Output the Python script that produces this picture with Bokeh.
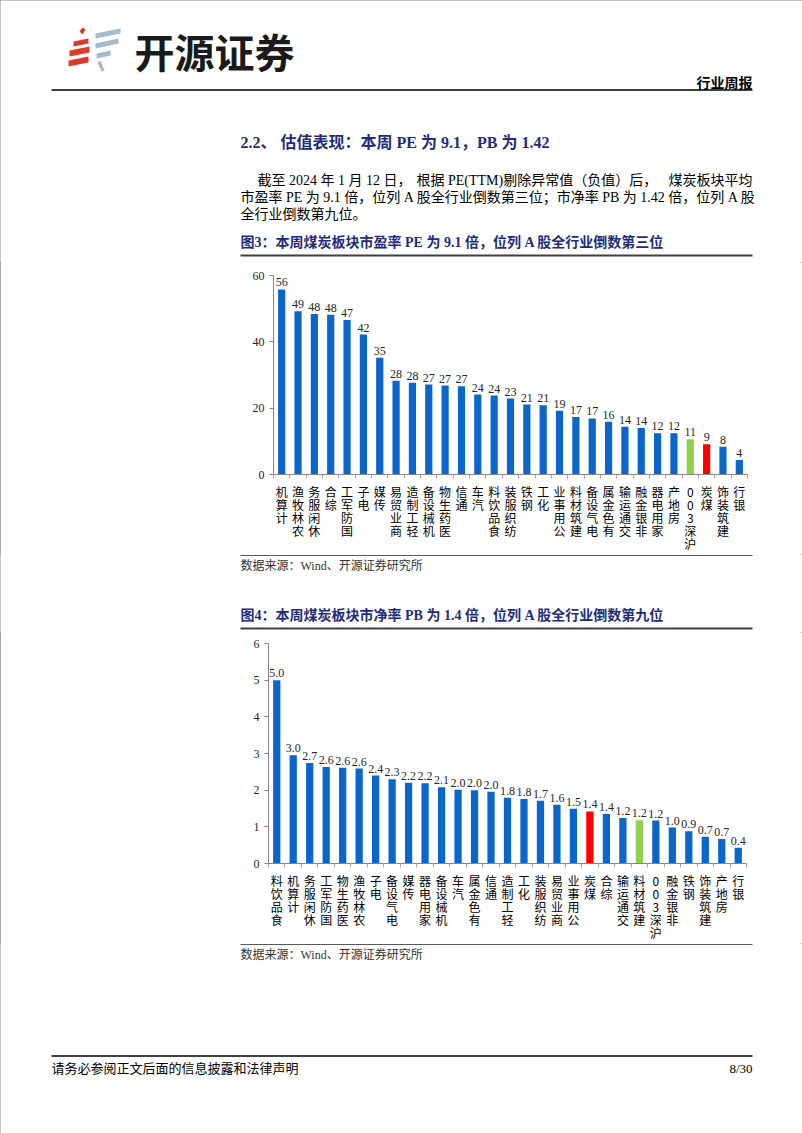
from bokeh.plotting import figure
from bokeh.layouts import column
from bokeh.models import Range1d, LinearAxis, FixedTicker
from bokeh.core.properties import value
from bokeh.embed import file_html
from bokeh.resources import INLINE

SERIF = "Liberation Serif, Noto Sans CJK SC"
CJK = "Noto Sans CJK SC"
NAVY = "#1F2C7A"
BLUE = "#0A66C8"
RED = "#FF0000"
GREEN = "#92D050"
W = 802

# ---------------- data ----------------
pe_categories = ["计算机", "农林牧渔", "休闲服务", "综合", "国防军工", "电子", "传媒", "商业贸易",
                 "轻工制造", "机械设备", "医药生物", "通信", "汽车", "食品饮料", "纺织服装", "钢铁",
                 "化工", "公用事业", "建筑材料", "电气设备", "有色金属", "交通运输", "非银金融",
                 "家用电器", "房地产", "沪深300", "煤炭", "建筑装饰", "银行"]
pe_values = [55.8, 49.2, 48.4, 48.2, 46.6, 42.2, 35.2, 28.3, 27.7, 27.1, 26.8, 26.6, 24.1, 23.8,
             22.9, 21.1, 20.9, 19.2, 17.3, 16.9, 15.9, 14.4, 14.0, 12.4, 12.4, 10.6, 9.1, 8.4, 4.4]
pe_highlight = {"沪深300": GREEN, "煤炭": RED}

pb_categories = ["食品饮料", "计算机", "休闲服务", "国防军工", "医药生物", "农林牧渔", "电子", "电气设备",
                 "传媒", "家用电器", "机械设备", "汽车", "有色金属", "通信", "轻工制造", "化工",
                 "纺织服装", "商业贸易", "公用事业", "煤炭", "综合", "交通运输", "建筑材料", "沪深300",
                 "非银金融", "钢铁", "建筑装饰", "房地产", "银行"]
pb_values = [5.00, 2.95, 2.74, 2.63, 2.61, 2.59, 2.40, 2.30, 2.20, 2.19, 2.08, 2.01, 2.00, 1.96,
             1.79, 1.76, 1.71, 1.60, 1.49, 1.42, 1.35, 1.24, 1.18, 1.17, 0.98, 0.88, 0.73, 0.67, 0.43]
pb_highlight = {"建筑材料": GREEN, "煤炭": RED}

pe_ticks = [0, 20, 40, 60]
pb_ticks = [0, 1, 2, 3, 4, 5, 6]


def stacked(label):
    return "\n".join(reversed(list(label)))


def canvas(top, bottom):
    p = figure(width=W, height=bottom - top, x_range=Range1d(0, W), y_range=Range1d(bottom, top),
               output_backend="svg", toolbar_location=None, x_axis_location=None, y_axis_location=None,
               min_border=0, min_border_left=0, min_border_right=0, min_border_top=0, min_border_bottom=0,
               outline_line_color=None, background_fill_color="white")
    p.grid.visible = False
    return p


def txt(p, x, y, s, size, font=SERIF, color="#000000", bold=False, align="left"):
    p.text(x=[x], y=[y], text=[s], text_font=value(font), text_font_size=size, text_color=color,
           text_font_style="bold" if bold else "normal", text_align=align, text_baseline="middle")


def bar_chart(cats, vals, highlight, fmt, ymax, ticks, top, bottom, fl, fr, ft, fb):
    n = len(cats)
    xs = list(range(1, n + 1))
    p = figure(width=W, height=bottom - top, x_range=Range1d(0.5, n + 0.5), y_range=Range1d(0, ymax),
               output_backend="svg", toolbar_location=None, x_axis_location=None, y_axis_location="left",
               min_border_left=fl, min_border_right=W - fr, min_border_top=ft - top,
               min_border_bottom=bottom - fb, outline_line_color=None, background_fill_color="white")
    p.grid.visible = False
    colors = [highlight.get(c, BLUE) for c in cats]
    p.vbar(x=xs, top=vals, width=0.44, color=colors, line_color=None)
    p.text(x=xs, y=vals, text=[fmt % v for v in vals], text_align="center", text_baseline="bottom",
           y_offset=-3, text_font=value(SERIF), text_font_size="12px", text_color="#262626")
    ya = p.yaxis[0]
    ya.ticker = FixedTicker(ticks=ticks)
    ya.axis_line_color = "#868686"
    ya.major_tick_line_color = "#868686"
    ya.major_tick_out = 4
    ya.major_tick_in = 0
    ya.minor_tick_line_color = None
    ya.major_label_text_font = SERIF
    ya.major_label_text_font_size = "12px"
    ya.major_label_text_color = "#262626"
    ya.major_label_standoff = 5
    xa = LinearAxis(ticker=FixedTicker(ticks=xs, minor_ticks=[i + 0.5 for i in range(n + 1)]),
                    axis_line_color="#868686", major_tick_line_color=None, major_tick_out=0,
                    major_tick_in=0, minor_tick_line_color="#A6A6A6", minor_tick_out=4, minor_tick_in=0,
                    major_label_text_font=CJK, major_label_text_font_size="12px",
                    major_label_text_line_height=0.77, major_label_standoff=4,
                    major_label_text_color="#000000", major_label_orientation="horizontal")
    xa.major_label_overrides = {x: stacked(c) for x, c in zip(xs, cats)}
    p.add_layout(xa, "below")
    return p


# ---------------- header + text ----------------
head = canvas(0, 262)
red_stripes_x = [[68, 68, 88, 88], [69, 69, 89, 89], [73, 73, 88, 88]]
red_stripes_y = [[66, 60, 56, 62], [56, 50, 46, 52], [46, 41, 38, 43]]
head.patches(red_stripes_x, red_stripes_y, color="#DC3A2C", line_color=None)
head.patches([[79, 82, 85, 82]], [[31, 27, 29, 34]], color="#DC3A2C", line_color=None)
blue_x = [[95, 95, 120, 120], [95, 95, 118, 118], [96, 96, 110, 110], [97, 100, 104, 101]]
blue_y = [[38, 33, 28, 33], [48, 43, 38, 43], [58, 53, 50, 55], [62, 60, 70, 71]]
head.patches(blue_x, blue_y, color="#A3BCCB", line_color=None)
txt(head, 134, 50, "开源证券", "40px", font=CJK, color="#1A1A1A", bold=True)
txt(head, 752, 81, "行业周报", "14px", font=CJK, color="#000000", bold=True, align="right")
head.segment(x0=[51], y0=[89.5], x1=[752], y1=[89.5], line_color="#000000", line_width=1.5)

txt(head, 240, 142, "2.2、 估值表现：本周 PE 为 9.1，PB 为 1.42", "16px", color=NAVY, bold=True)
# first paragraph line, spread to the justified width of the original
txt(head, 257, 180, "截至 2024 年 1 月 12 日，", "14px")
txt(head, 416, 180, "根据 PE(TTM)剔除异常值（负值）后，", "14px")
txt(head, 752, 180, "煤炭板块平均", "14px", align="right")
txt(head, 240, 197, "市盈率 PE 为 9.1 倍，位列 A 股全行业倒数第三位；市净率 PB 为 1.42 倍，位列 A 股", "14px")
txt(head, 240, 214, "全行业倒数第九位。", "14px")
txt(head, 240, 242, "图3：本周煤炭板块市盈率 PE 为 9.1 倍，位列 A 股全行业倒数第三位", "14px", color=NAVY, bold=True)
head.segment(x0=[240], y0=[255], x1=[752], y1=[255], line_color="#404040", line_width=2)

# ---------------- PE chart ----------------
pe_chart = bar_chart(pe_categories, pe_values, pe_highlight, "%.0f", 60, pe_ticks,
                     262, 554, 273, 747, 275, 476)

# ---------------- middle ----------------
mid = canvas(554, 632)
mid.segment(x0=[240], y0=[555], x1=[752], y1=[555], line_color="#595959", line_width=1)
txt(mid, 240, 565, "数据来源：Wind、开源证券研究所", "12px", color="#333333")
txt(mid, 240, 615, "图4：本周煤炭板块市净率 PB 为 1.4 倍，位列 A 股全行业倒数第九位", "14px", color=NAVY, bold=True)
mid.segment(x0=[240], y0=[628], x1=[752], y1=[628], line_color="#404040", line_width=2)

# ---------------- PB chart ----------------
pb_chart = bar_chart(pb_categories, pb_values, pb_highlight, "%.1f", 6, pb_ticks,
                     632, 943, 268, 746, 643, 863)

# ---------------- footer ----------------
foot = canvas(943, 1133)
foot.segment(x0=[240], y0=[944], x1=[752], y1=[944], line_color="#595959", line_width=1)
txt(foot, 240, 954, "数据来源：Wind、开源证券研究所", "12px", color="#333333")
foot.segment(x0=[51], y0=[1055.5], x1=[752], y1=[1055.5], line_color="#000000", line_width=1.5)
txt(foot, 51, 1068, "请务必参阅正文后面的信息披露和法律声明", "13px")
txt(foot, 752, 1068, "8/30", "13px", align="right")

layout = column(column(head), column(pe_chart), column(mid), column(pb_chart), column(foot), spacing=0)
layout.styles = {"outline": "1px solid #8C8C8C", "outline-offset": "-1px"}
open("out.html", "w").write(file_html(layout, INLINE))
